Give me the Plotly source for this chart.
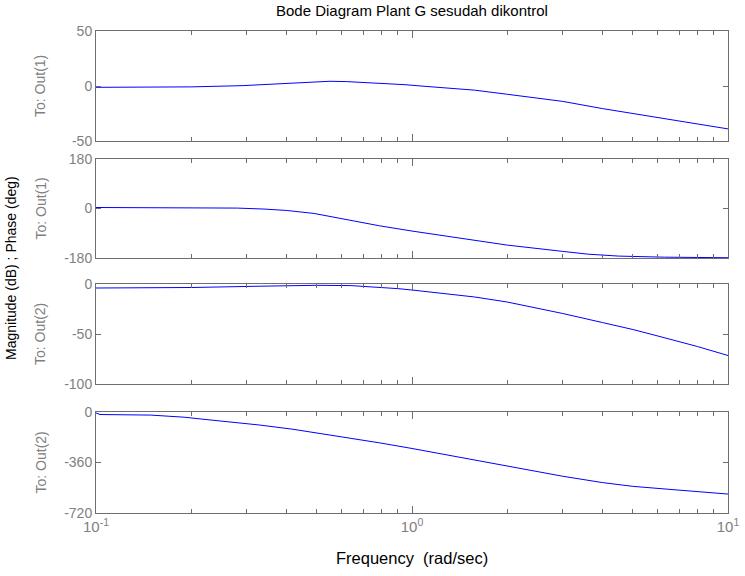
import plotly.graph_objects as go

# ---- data ----
w_mag1 = [0.1, 0.15, 0.2, 0.29, 0.37, 0.49, 0.55, 0.62, 0.78, 0.95, 1.1, 1.28, 1.58, 2.0, 3.0, 4.0, 5.0, 6.0, 7.0, 8.0, 10.0]
mag1 = [-1.2, -1.1, -0.8, 0.3, 1.8, 3.6, 4.3, 4.0, 2.8, 1.2, -0.3, -1.8, -3.8, -7.5, -14, -20.5, -25, -28.5, -31.5, -34, -39]

w_ph1 = [0.1, 0.2, 0.28, 0.34, 0.4, 0.49, 0.6, 0.79, 1.0, 1.24, 1.58, 2.0, 3.0, 3.6, 4.5, 6.3, 10.0]
ph1 = [3.6, 3.0, 1.5, -2, -7, -18, -37, -63, -82, -97, -116, -133, -156, -166, -173, -177, -179]

w_mag2 = [0.1, 0.2, 0.33, 0.5, 0.64, 0.76, 0.9, 1.0, 1.33, 1.58, 2.0, 2.35, 2.7, 3.0, 4.0, 5.0, 6.0, 7.0, 8.0, 10.0]
mag2 = [-4, -3.5, -2.2, -1.3, -1.6, -2.8, -4.6, -6, -10, -13, -18, -22.5, -26.5, -29.5, -38.5, -45.5, -52, -57.5, -62.5, -71.5]

w_ph2 = [0.1, 0.103, 0.149, 0.19, 0.226, 0.28, 0.33, 0.42, 0.52, 0.64, 0.79, 1.0, 1.24, 1.53, 2.0, 2.5, 3.0, 4.0, 5.0, 7.0, 10.0]
ph2 = [-7, -18, -22, -37, -55, -74, -93, -123, -155, -187, -220, -260, -298, -339, -383, -425, -458, -503, -530, -557, -585]

x_major = [0.1, 1, 10]
x_major_text = ["10<sup>-1</sup>", "10<sup>0</sup>", "10<sup>1</sup>"]
x_minor = [m * d for d in (0.1, 1) for m in range(2, 10)]

y_ticks = [[-50, 0, 50], [-180, 0, 180], [-100, -50, 0], [-720, -360, 0]]
y_tick_text = [["-50", "0", "50"], ["-180", "0", "180"], ["-100", "-50", "0"], ["-720", "-360", "0"]]
y_ranges = [[-50, 50], [-180, 180], [-100, 0], [-720, 0]]
row_labels = ["To: Out(1)", "To: Out(1)", "To: Out(2)", "To: Out(2)"]

title = "Bode Diagram Plant G sesudah dikontrol"
x_title = "Frequency\u00a0\u00a0(rad/sec)"
y_title = "Magnitude (dB) ; Phase (deg)"

# ---- layout geometry (pixels in a 745x576 page) ----
W, H = 745, 576
x0, x1 = 96, 728
rows_px = [(31, 141), (159, 258), (284, 384), (412, 513)]

FONT = "Liberation Sans, Arial, sans-serif"
GRAY = "#808080"
FRAME = "#6e6e6e"

fig = go.Figure()
series = [(w_mag1, mag1), (w_ph1, ph1), (w_mag2, mag2), (w_ph2, ph2)]
for i, (wx, vy) in enumerate(series):
    sfx = "" if i == 0 else str(i + 1)
    fig.add_trace(go.Scatter(x=wx, y=vy, mode="lines",
                             line=dict(color="#0000ff", width=1),
                             xaxis="x" + sfx, yaxis="y" + sfx,
                             showlegend=False, hoverinfo="skip"))

layout = dict(template="none", width=W, height=H, autosize=False,
              margin=dict(l=0, r=0, t=0, b=0, pad=0),
              paper_bgcolor="white", plot_bgcolor="white",
              font=dict(family=FONT, size=14, color=GRAY))

for i, (top, bot) in enumerate(rows_px):
    sfx = "" if i == 0 else str(i + 1)
    last = i == 3
    layout["xaxis" + sfx] = dict(
        type="log", range=[-1, 1], domain=[x0 / W, x1 / W], automargin=False,
        anchor="y" + sfx, showgrid=False, zeroline=False,
        showline=True, linecolor=FRAME, linewidth=1, mirror="ticks",
        ticks="inside", ticklen=7, tickcolor=FRAME,
        tickmode="array", tickvals=x_major,
        ticktext=x_major_text, showticklabels=last,
        tickfont=dict(size=15, color=GRAY, family=FONT),
        minor=dict(ticks="inside", ticklen=4, tickcolor=FRAME,
                   tickmode="array", tickvals=x_minor, showgrid=False),
    )
    layout["yaxis" + sfx] = dict(
        range=y_ranges[i], domain=[1 - bot / H, 1 - top / H], automargin=False,
        anchor="x" + sfx, showgrid=False, zeroline=False,
        showline=True, linecolor=FRAME, linewidth=1, mirror="ticks",
        ticks="inside", ticklen=5, tickcolor=FRAME,
        tickmode="array", tickvals=y_ticks[i], ticktext=y_tick_text[i],
        tickfont=dict(size=14, color=GRAY, family=FONT),
    )

annotations = [
    dict(text=title, x=(x0 + x1) / 2 / W, y=1 - 11 / H, xref="paper", yref="paper",
         showarrow=False, font=dict(size=15, color="black", family=FONT),
         xanchor="center", yanchor="middle"),
    dict(text=x_title, x=(x0 + x1) / 2 / W, y=1 - 558 / H, xref="paper", yref="paper",
         showarrow=False, font=dict(size=16.5, color="black", family=FONT),
         xanchor="center", yanchor="middle"),
    dict(text=y_title, x=11 / W, y=1 - 268 / H, xref="paper", yref="paper",
         showarrow=False, textangle=-90, font=dict(size=14, color="black", family=FONT),
         xanchor="center", yanchor="middle"),
]
for i, (top, bot) in enumerate(rows_px):
    annotations.append(dict(text=row_labels[i], x=40 / W, y=1 - (top + bot) / 2 / H,
                            xref="paper", yref="paper", showarrow=False, textangle=-90,
                            font=dict(size=14, color=GRAY, family=FONT),
                            xanchor="center", yanchor="middle"))
layout["annotations"] = annotations

fig.update_layout(**layout)
fig.write_html("out.html", config={"displayModeBar": False},
               post_script="document.body.style.margin='0';document.body.style.overflow='hidden';")
